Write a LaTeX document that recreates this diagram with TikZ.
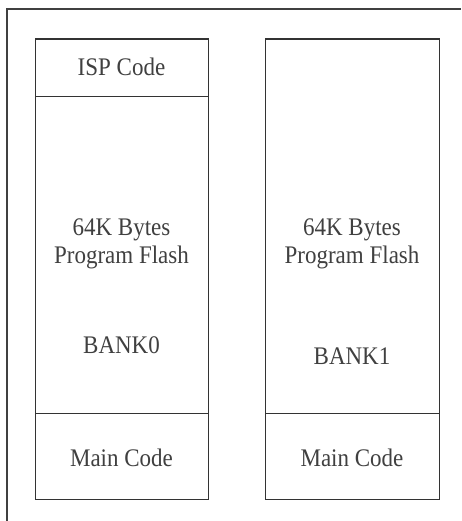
\documentclass[tikz,border=0pt]{standalone}
\usepackage{fontspec}
\setmainfont{Liberation Serif}
\newcommand{\tallt}[1]{\scalebox{1}[1.1]{#1}}
\begin{document}
\begin{tikzpicture}[x=1pt,y=-1pt,
  box/.style={draw=black!80, line width=1.3pt, rectangle, inner sep=0pt, anchor=north west},
  lbl/.style={font=\fontsize{23}{23}\selectfont, text=black!75, anchor=base, inner sep=0pt}]
\useasboundingbox (0,0) rectangle (461,521);
\fill[white] (0,0) rectangle (461,521);
% outer frame (only left and top visible)
\coordinate (fb) at (7,521);
\coordinate (fc) at (7,9);
\coordinate (fr) at (461,9);
\draw[black!75, line width=1.6pt] (fb) -- (fc) -- (fr);
% left column
\node[box, minimum width=173pt, minimum height=57.5pt] (isp) at (35,38.5) {};
\node[box, minimum width=173pt, minimum height=317pt] (flash0) at (35,96) {};
\node[box, minimum width=173pt, minimum height=86pt] (main0) at (35,413) {};
% right column
\node[box, minimum width=174pt, minimum height=374.5pt] (flash1) at (265,38.5) {};
\node[box, minimum width=174pt, minimum height=86pt] (main1) at (265,413) {};
% labels
\node[lbl] (tisp) at (121.5,76) {\tallt{ISP Code}};
\node[lbl] (t0a) at (121.5,235) {\tallt{64K Bytes}};
\node[lbl] (t0b) at (121.5,263) {\tallt{Program Flash}};
\node[lbl] (t0c) at (121.5,353) {\tallt{BANK0}};
\node[lbl] (tm0) at (121.5,466) {\tallt{Main Code}};
\node[lbl] (t1a) at (352,235) {\tallt{64K Bytes}};
\node[lbl] (t1b) at (352,263) {\tallt{Program Flash}};
\node[lbl] (t1c) at (352,364) {\tallt{BANK1}};
\node[lbl] (tm1) at (352,466) {\tallt{Main Code}};
\end{tikzpicture}
\end{document}
